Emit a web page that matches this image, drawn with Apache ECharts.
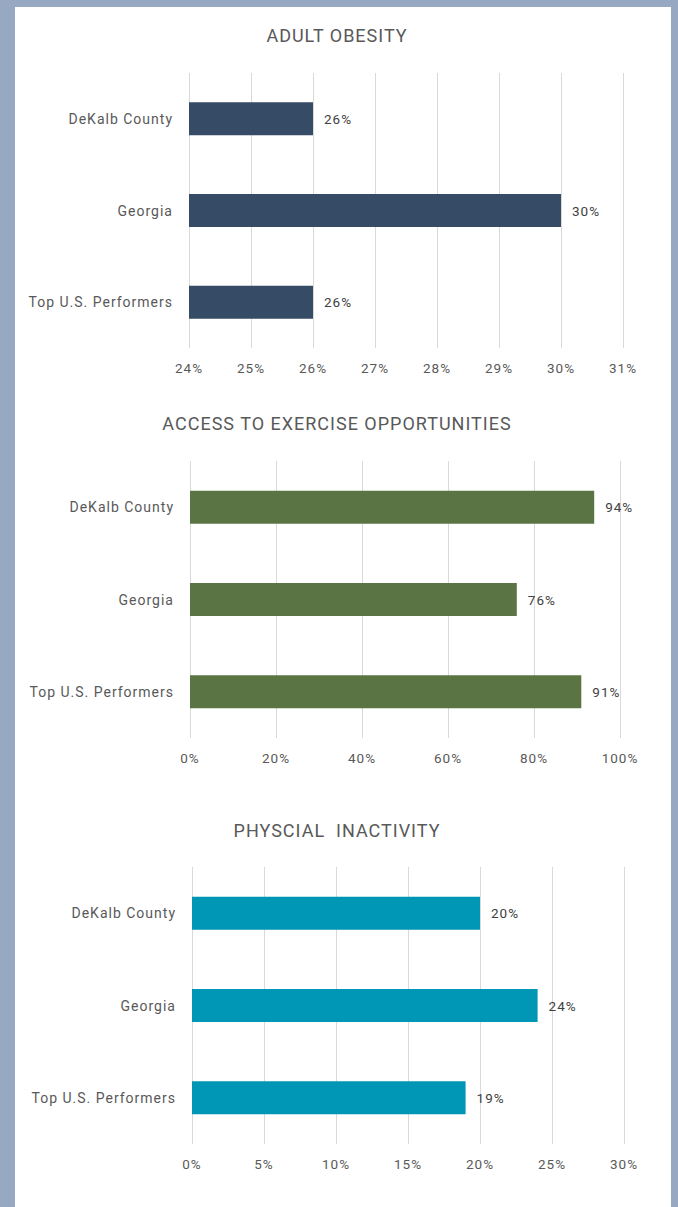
<!DOCTYPE html>
<html>
<head>
<meta charset="utf-8">
<script src="https://cdn.jsdelivr.net/npm/echarts@6/dist/echarts.min.js"></script>
<style>
    html, body { margin: 0; padding: 0; }
    body { width: 678px; height: 1207px; background: #97a8c2; position: relative; overflow: hidden; }
    #panel { position: absolute; left: 15px; top: 7px; width: 656px; height: 1200px; background: #ffffff; }
    /* 原图文字字距较宽 */
    #panel text { letter-spacing: 1px; }
</style>
</head>
<body>
<div id="panel"></div>
<script>
var categories = ['DeKalb County', 'Georgia', 'Top U.S. Performers'];

var obesityValues = [26, 30, 26];
var obesityTicks = [24, 31, 1];

var exerciseValues = [94, 76, 91];
var exerciseTicks = [0, 100, 20];

var inactivityValues = [20, 24, 19];
var inactivityTicks = [0, 30, 5];

var titles = ['ADULT OBESITY', 'ACCESS TO EXERCISE OPPORTUNITIES', 'PHYSCIAL  INACTIVITY'];
var colors = ['#354b66', '#5a7543', '#0096b5'];

var font = 'Roboto, "Noto Sans", sans-serif';

// 每个小图的位置
var grids = [
    {left: 174, top: 66, width: 434, height: 275},
    {left: 175, top: 454, width: 430, height: 277},
    {left: 177, top: 860, width: 432, height: 277}
];
var titleTops = [14, 402, 809];

var valueSets = [obesityValues, exerciseValues, inactivityValues];
var tickSets = [obesityTicks, exerciseTicks, inactivityTicks];

var chart = echarts.init(document.getElementById('panel'), null, {renderer: 'svg'});

var option = {
    animation: false,
    title: [],
    grid: [],
    xAxis: [],
    yAxis: [],
    series: []
};

for (var i = 0; i < 3; i++) {
    option.title.push({
        text: titles[i],
        left: 317,
        top: titleTops[i],
        textAlign: 'center',
        textStyle: {color: '#595959', fontSize: 18, fontWeight: 'normal', fontFamily: font}
    });
    option.grid.push(grids[i]);
    option.xAxis.push({
        type: 'value',
        gridIndex: i,
        min: tickSets[i][0],
        max: tickSets[i][1],
        interval: tickSets[i][2],
        axisLine: {show: false},
        axisTick: {show: false},
        splitLine: {lineStyle: {color: '#d9d9d9', width: 1}},
        axisLabel: {
            formatter: '{value}%',
            margin: 13,
            color: '#595959',
            fontSize: 13.5,
            fontFamily: font
        }
    });
    option.yAxis.push({
        type: 'category',
        gridIndex: i,
        inverse: true,
        data: categories,
        axisLine: {show: false},
        axisTick: {show: false},
        axisLabel: {margin: 16, color: '#595959', fontSize: 14, fontFamily: font}
    });
    option.series.push({
        type: 'bar',
        xAxisIndex: i,
        yAxisIndex: i,
        data: valueSets[i],
        barWidth: 33,
        itemStyle: {color: colors[i]},
        label: {
            show: true,
            position: 'right',
            distance: 11,
            formatter: '{c}%',
            color: '#404040',
            fontSize: 13.5,
            fontFamily: font
        }
    });
}

chart.setOption(option);
</script>
</body>
</html>
